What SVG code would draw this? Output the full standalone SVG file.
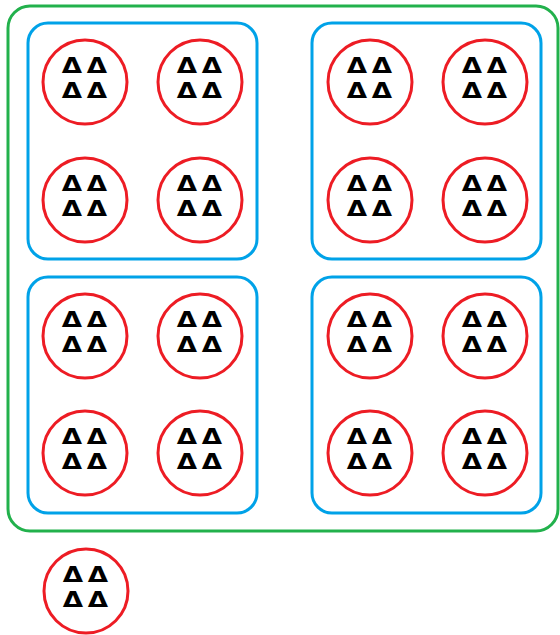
<svg xmlns="http://www.w3.org/2000/svg" width="560" height="635" viewBox="0 0 560 635">
  <style>
    .outer { fill: none; stroke: #22b14c; stroke-width: 3; }
    .group { fill: none; stroke: #00a2e8; stroke-width: 3; }
    .ring { fill: #ffffff; stroke: #ed1c24; stroke-width: 3; }
    .tri { font-family: "DejaVu Sans", "Liberation Sans", sans-serif; font-weight: bold; font-size: 21px; fill: #000000; text-anchor: middle; }
  </style>
  <rect width="560" height="635" fill="#ffffff"/>

  <!-- outer container -->
  <g id="outer">
    <rect class="outer" x="8" y="6" width="550" height="525" rx="22"/>
  </g>

  <!-- four inner containers -->
  <g id="group-tl"><rect class="group" x="28" y="23" width="229" height="236" rx="20"/></g>
  <g id="group-tr"><rect class="group" x="312" y="23" width="229" height="236" rx="20"/></g>
  <g id="group-bl"><rect class="group" x="28" y="277" width="229" height="236" rx="20"/></g>
  <g id="group-br"><rect class="group" x="312" y="277" width="229" height="236" rx="20"/></g>

  <!-- circular nodes: a ring with two rows of triangles, drawn in local coordinates -->
  <g id="n1" transform="translate(85,82)"><circle class="ring" r="42"/>
    <text class="tri" transform="scale(1.25,1)"><tspan x="-10.4" y="-9.5">Δ</tspan><tspan x="9.6" y="-9.5">Δ</tspan></text>
    <text class="tri" transform="scale(1.25,1)"><tspan x="-10.4" y="15.5">Δ</tspan><tspan x="9.6" y="15.5">Δ</tspan></text></g>
  <g id="n2" transform="translate(200,82)"><circle class="ring" r="42"/>
    <text class="tri" transform="scale(1.25,1)"><tspan x="-10.4" y="-9.5">Δ</tspan><tspan x="9.6" y="-9.5">Δ</tspan></text>
    <text class="tri" transform="scale(1.25,1)"><tspan x="-10.4" y="15.5">Δ</tspan><tspan x="9.6" y="15.5">Δ</tspan></text></g>
  <g id="n3" transform="translate(85,200)"><circle class="ring" r="42"/>
    <text class="tri" transform="scale(1.25,1)"><tspan x="-10.4" y="-9.5">Δ</tspan><tspan x="9.6" y="-9.5">Δ</tspan></text>
    <text class="tri" transform="scale(1.25,1)"><tspan x="-10.4" y="15.5">Δ</tspan><tspan x="9.6" y="15.5">Δ</tspan></text></g>
  <g id="n4" transform="translate(200,200)"><circle class="ring" r="42"/>
    <text class="tri" transform="scale(1.25,1)"><tspan x="-10.4" y="-9.5">Δ</tspan><tspan x="9.6" y="-9.5">Δ</tspan></text>
    <text class="tri" transform="scale(1.25,1)"><tspan x="-10.4" y="15.5">Δ</tspan><tspan x="9.6" y="15.5">Δ</tspan></text></g>

  <g id="n5" transform="translate(370,82)"><circle class="ring" r="42"/>
    <text class="tri" transform="scale(1.25,1)"><tspan x="-10.4" y="-9.5">Δ</tspan><tspan x="9.6" y="-9.5">Δ</tspan></text>
    <text class="tri" transform="scale(1.25,1)"><tspan x="-10.4" y="15.5">Δ</tspan><tspan x="9.6" y="15.5">Δ</tspan></text></g>
  <g id="n6" transform="translate(485,82)"><circle class="ring" r="42"/>
    <text class="tri" transform="scale(1.25,1)"><tspan x="-10.4" y="-9.5">Δ</tspan><tspan x="9.6" y="-9.5">Δ</tspan></text>
    <text class="tri" transform="scale(1.25,1)"><tspan x="-10.4" y="15.5">Δ</tspan><tspan x="9.6" y="15.5">Δ</tspan></text></g>
  <g id="n7" transform="translate(370,200)"><circle class="ring" r="42"/>
    <text class="tri" transform="scale(1.25,1)"><tspan x="-10.4" y="-9.5">Δ</tspan><tspan x="9.6" y="-9.5">Δ</tspan></text>
    <text class="tri" transform="scale(1.25,1)"><tspan x="-10.4" y="15.5">Δ</tspan><tspan x="9.6" y="15.5">Δ</tspan></text></g>
  <g id="n8" transform="translate(485,200)"><circle class="ring" r="42"/>
    <text class="tri" transform="scale(1.25,1)"><tspan x="-10.4" y="-9.5">Δ</tspan><tspan x="9.6" y="-9.5">Δ</tspan></text>
    <text class="tri" transform="scale(1.25,1)"><tspan x="-10.4" y="15.5">Δ</tspan><tspan x="9.6" y="15.5">Δ</tspan></text></g>

  <g id="n9" transform="translate(85,336)"><circle class="ring" r="42"/>
    <text class="tri" transform="scale(1.25,1)"><tspan x="-10.4" y="-9.5">Δ</tspan><tspan x="9.6" y="-9.5">Δ</tspan></text>
    <text class="tri" transform="scale(1.25,1)"><tspan x="-10.4" y="15.5">Δ</tspan><tspan x="9.6" y="15.5">Δ</tspan></text></g>
  <g id="n10" transform="translate(200,336)"><circle class="ring" r="42"/>
    <text class="tri" transform="scale(1.25,1)"><tspan x="-10.4" y="-9.5">Δ</tspan><tspan x="9.6" y="-9.5">Δ</tspan></text>
    <text class="tri" transform="scale(1.25,1)"><tspan x="-10.4" y="15.5">Δ</tspan><tspan x="9.6" y="15.5">Δ</tspan></text></g>
  <g id="n11" transform="translate(85,453)"><circle class="ring" r="42"/>
    <text class="tri" transform="scale(1.25,1)"><tspan x="-10.4" y="-9.5">Δ</tspan><tspan x="9.6" y="-9.5">Δ</tspan></text>
    <text class="tri" transform="scale(1.25,1)"><tspan x="-10.4" y="15.5">Δ</tspan><tspan x="9.6" y="15.5">Δ</tspan></text></g>
  <g id="n12" transform="translate(200,453)"><circle class="ring" r="42"/>
    <text class="tri" transform="scale(1.25,1)"><tspan x="-10.4" y="-9.5">Δ</tspan><tspan x="9.6" y="-9.5">Δ</tspan></text>
    <text class="tri" transform="scale(1.25,1)"><tspan x="-10.4" y="15.5">Δ</tspan><tspan x="9.6" y="15.5">Δ</tspan></text></g>

  <g id="n13" transform="translate(370,336)"><circle class="ring" r="42"/>
    <text class="tri" transform="scale(1.25,1)"><tspan x="-10.4" y="-9.5">Δ</tspan><tspan x="9.6" y="-9.5">Δ</tspan></text>
    <text class="tri" transform="scale(1.25,1)"><tspan x="-10.4" y="15.5">Δ</tspan><tspan x="9.6" y="15.5">Δ</tspan></text></g>
  <g id="n14" transform="translate(485,336)"><circle class="ring" r="42"/>
    <text class="tri" transform="scale(1.25,1)"><tspan x="-10.4" y="-9.5">Δ</tspan><tspan x="9.6" y="-9.5">Δ</tspan></text>
    <text class="tri" transform="scale(1.25,1)"><tspan x="-10.4" y="15.5">Δ</tspan><tspan x="9.6" y="15.5">Δ</tspan></text></g>
  <g id="n15" transform="translate(370,453)"><circle class="ring" r="42"/>
    <text class="tri" transform="scale(1.25,1)"><tspan x="-10.4" y="-9.5">Δ</tspan><tspan x="9.6" y="-9.5">Δ</tspan></text>
    <text class="tri" transform="scale(1.25,1)"><tspan x="-10.4" y="15.5">Δ</tspan><tspan x="9.6" y="15.5">Δ</tspan></text></g>
  <g id="n16" transform="translate(485,453)"><circle class="ring" r="42"/>
    <text class="tri" transform="scale(1.25,1)"><tspan x="-10.4" y="-9.5">Δ</tspan><tspan x="9.6" y="-9.5">Δ</tspan></text>
    <text class="tri" transform="scale(1.25,1)"><tspan x="-10.4" y="15.5">Δ</tspan><tspan x="9.6" y="15.5">Δ</tspan></text></g>

  <!-- lone node below the outer container -->
  <g id="n17" transform="translate(86,591)"><circle class="ring" r="42"/>
    <text class="tri" transform="scale(1.25,1)"><tspan x="-10.4" y="-9.5">Δ</tspan><tspan x="9.6" y="-9.5">Δ</tspan></text>
    <text class="tri" transform="scale(1.25,1)"><tspan x="-10.4" y="15.5">Δ</tspan><tspan x="9.6" y="15.5">Δ</tspan></text></g>
</svg>
